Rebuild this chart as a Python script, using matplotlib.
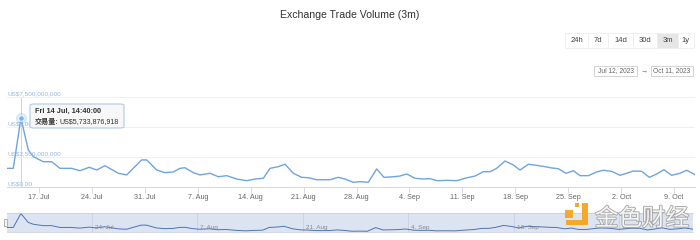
import numpy as np
import pandas as pd
import matplotlib
matplotlib.use("Agg")
import matplotlib.pyplot as plt
import matplotlib.dates as mdates
import matplotlib.patheffects as pe
from matplotlib.patches import Rectangle, FancyBboxPatch
from matplotlib.ticker import FixedLocator

plt.rcParams['font.family'] = ['Liberation Sans', 'Noto Sans CJK SC', 'DejaVu Sans']

# days since 2023-07-12 00:00 and exchange volume in US$ billions
days = [0.77, 1.6, 2.61, 3.58, 4.25, 5.57, 6.68, 7.78, 9.33, 10.42, 11.65, 12.63, 13.73,
        15.49, 16.6, 17.47, 18.58, 19.25, 20.57, 21.67, 22.76, 23.65, 24.31, 25.41, 26.3,
        27.62, 28.72, 29.83, 31.15, 32.47, 33.57, 34.67, 35.56, 36.66, 37.54, 38.64, 39.75,
        40.62, 41.73, 43.49, 44.59, 45.48, 46.57, 47.46, 48.56, 49.67, 50.63, 51.87, 52.75,
        53.64, 54.74, 55.83, 56.72, 57.69, 58.93, 60.25, 61.35, 62.67, 63.77, 64.66, 65.54,
        66.64, 67.74, 68.62, 69.72, 70.83, 71.93, 72.82, 73.69, 74.71, 75.68, 76.56, 77.66,
        78.77, 79.64, 80.75, 81.85, 82.74, 83.61, 84.72, 85.73, 86.71, 87.67, 88.69, 89.79,
        90.68, 91.77]
volume_bn = [1.53, 1.53, 5.73, 3.06, 2.5, 2.08, 2.08, 1.53, 1.53, 1.33, 1.62, 1.39, 1.75,
             1.12, 0.98, 1.53, 2.23, 2.23, 1.39, 1.17, 1.23, 1.53, 1.58, 1.17, 0.98,
             1.12, 0.83, 0.92, 0.64, 0.5, 0.64, 0.7, 1.53, 1.67, 1.87, 1.12, 0.78,
             0.75, 0.58, 0.58, 0.78, 0.64, 0.37, 0.42, 0.37, 1.48, 0.78, 0.83, 0.89,
             1.06, 0.7, 0.64, 0.67, 0.5, 0.53, 0.5, 0.7, 0.89, 1.25, 1.25, 1.53,
             2.14, 1.81, 1.39, 1.87, 1.78, 1.67, 1.56, 1.5, 1.12, 1.33, 0.92, 0.92,
             1.23, 1.37, 1.28, 0.95, 1.12, 1.31, 1.28, 0.78, 1.06, 1.42, 0.95, 1.12,
             1.37, 1.0]
ytick_vals = [0, 2.5e9, 5e9, 7.5e9]
ytick_labels = ["US$0.00", "US$2,500,000,000", "US$5,000,000,000", "US$7,500,000,000"]
range_buttons = ["24h", "7d", "14d", "30d", "3m", "1y"]
selected_button = "3m"
date_from, date_to = "Jul 12, 2023", "Oct 11, 2023"
tip_time = "Fri 14 Jul, 14:40:00"
tip_label, tip_value = "交易量:", "US$5,733,876,918"

start = pd.Timestamp("2023-07-12")
times = start + pd.to_timedelta(days, unit="D")
vol = np.array(volume_bn) * 1e9
x0 = start + pd.Timedelta(days=0.767)
x1 = start + pd.Timedelta(days=91.77)

W, H = 700, 240
fig = plt.figure(figsize=(7, 2.4), dpi=100)


def box(x, y, w, h):
    # pixel box (top-left origin) -> figure fraction
    return [x / W, 1 - (y + h) / H, w / W, h / H]


fig.text(0.5, 1 - 15 / H, "Exchange Trade Volume (3m)", ha="center", va="center",
         fontsize=7.6, color="#333333")

# range selector buttons
bx = [565, 588, 608, 633, 657, 678, 694]
for i, lab in enumerate(range_buttons):
    fc = "#e6e6e6" if lab == selected_button else "white"
    fig.add_artist(Rectangle((bx[i] / W, 1 - 48 / H), (bx[i + 1] - bx[i]) / W, 15 / H,
                             transform=fig.transFigure, facecolor=fc,
                             edgecolor="#eeeeee", lw=0.6))
    fig.text((bx[i] + bx[i + 1]) / 2 / W, 1 - 41 / H, lab, ha="center", va="center",
             fontsize=5.5, color="#444444")

# date inputs
for (xa, xb), lab in [((594, 637), date_from), ((651, 693), date_to)]:
    fig.add_artist(Rectangle((xa / W, 1 - 76 / H), (xb - xa) / W, 10 / H,
                             transform=fig.transFigure, facecolor="white",
                             edgecolor="#cccccc", lw=0.6))
    fig.text((xa + xb) / 2 / W, 1 - 71 / H, lab, ha="center", va="center",
             fontsize=4.8, color="#666666")
fig.text(644 / W, 1 - 71 / H, "→", ha="center", va="center", fontsize=5, color="#666666")

# main chart
ax = fig.add_axes(box(7, 96.7, 688, 90))
ax.plot(times, vol, color="#6fa5dc", lw=1.0, zorder=3)
ax.set_xlim(x0, x1)
ax.set_ylim(0, 7.5e9)
ax.yaxis.set_major_locator(FixedLocator(ytick_vals))
ax.set_yticklabels([])
ax.tick_params(axis="y", length=0)
ax.grid(axis="y", color="#eeeeee", lw=0.6)
for v, lab in zip(ytick_vals, ytick_labels):
    ax.text(0.0, v, lab, transform=ax.get_yaxis_transform(), ha="left", va="bottom",
            fontsize=4.6, color="#8fb8e6")
ax.xaxis.set_major_locator(mdates.WeekdayLocator(byweekday=mdates.MO))
ax.xaxis.set_major_formatter(mdates.DateFormatter("%-d. %b"))
ax.tick_params(axis="x", length=4, width=0.6, color="#ccd6eb", labelsize=5.2,
               labelcolor="#666666", pad=1.5)
for s in ["top", "left", "right"]:
    ax.spines[s].set_visible(False)
ax.spines["bottom"].set_color("#ccd6eb")
ax.spines["bottom"].set_linewidth(0.7)

# hover state: crosshair, marker, tooltip
ipk = int(np.argmax(vol))
ax.axvline(times[ipk], color="#cccccc", lw=0.6, zorder=1)
ax.plot(times[ipk], vol[ipk], "o", ms=8, color="#7cb5ec", alpha=0.3, zorder=4, mec="none")
ax.plot(times[ipk], vol[ipk], "o", ms=4, color="#7cb5ec", mec="white", mew=0.6, zorder=5)
tip = FancyBboxPatch((30 / W, 1 - 128 / H), 94 / W, 24 / H, transform=fig.transFigure,
                     boxstyle="round,pad=0,rounding_size=0.006", facecolor="#f7f7f7",
                     edgecolor="#a9c8ea", lw=0.8, alpha=0.95, zorder=10)
fig.add_artist(tip)
fig.text(35 / W, 1 - 111 / H, tip_time, ha="left", va="center", fontsize=5.3,
         fontweight="bold", color="#333333", zorder=11)
fig.text(35 / W, 1 - 122 / H, tip_label, ha="left", va="center", fontsize=5.1,
         fontweight="bold", color="#333333", zorder=11)
fig.text(60 / W, 1 - 122 / H, tip_value, ha="left", va="center", fontsize=5.1,
         color="#333333", zorder=11)

# navigator
nav = fig.add_axes(box(7, 213, 686, 19))
nav.set_facecolor("#dce3f1")
nav.plot(times, vol, color="#4d74b5", lw=0.7)
nav.set_xlim(x0, x1)
nav.set_ylim(0.15e9, 5.9e9)
nav.set_yticks([])
nav.xaxis.set_major_locator(mdates.WeekdayLocator(byweekday=mdates.MO, interval=2))
nav.grid(axis="x", color="#c8d0e2", lw=0.6)
nav.tick_params(axis="x", length=0, labelbottom=False)
for d in mdates.num2date(nav.xaxis.get_major_locator()()):
    nav.text(d + pd.Timedelta(days=0.4), 0.12, d.strftime("%-d. %b"), fontsize=4.6,
             color="#8a8a8a", transform=nav.get_xaxis_transform(), va="bottom")
for s in nav.spines.values():
    s.set_color("#c6cbd6")
    s.set_linewidth(0.5)
nav.spines["left"].set_visible(False)
nav.spines["right"].set_visible(False)
fig.add_artist(Rectangle((4 / W, 1 - 226 / H), 3 / W, 7 / H, transform=fig.transFigure,
                         facecolor="#f2f2f2", edgecolor="#999999", lw=0.5))

# watermark
for (xa, ya, w, h) in [(565, 210, 8, 8), (575, 203, 4, 4), (582, 203, 6, 21), (566, 220, 22, 5)]:
    fig.add_artist(Rectangle((xa / W, 1 - (ya + h) / H), w / W, h / H,
                             transform=fig.transFigure, facecolor="#f5a623",
                             edgecolor="none", alpha=0.95))
fig.text(642 / W, 1 - 219 / H, "金色财经", ha="center", va="center", fontsize=17,
         color="#f4f4f4", family=["Noto Sans CJK SC"],
         path_effects=[pe.withStroke(linewidth=1.3, foreground="#a8a8a8")])

fig.savefig("out.png", dpi=100)
